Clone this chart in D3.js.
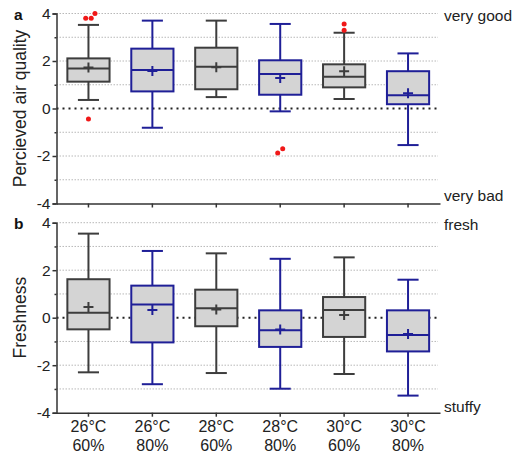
<!DOCTYPE html>
<html>
<head>
<meta charset="utf-8">
<script src="https://cdn.jsdelivr.net/npm/d3@7"></script>
<style>
  body { margin: 0; background: #fff; }
  svg, svg text { font-family: "Liberation Sans", Arial, sans-serif; }
</style>
</head>
<body>
<div id="chart"></div>
<script>
// 1. DATA
const temps = ["26°C", "26°C", "28°C", "28°C", "30°C", "30°C"]
const humidities = ["60%", "80%", "60%", "80%", "60%", "80%"]
const categories = temps.map((t, i) => t + " " + humidities[i])

// panel a: perceived air quality
const airLow    = [0.36, -0.81, 0.48, -0.12, 0.40, -1.54]
const airQ1     = [1.13, 0.72, 0.81, 0.58, 0.89, 0.18]
const airMedian = [1.68, 1.62, 1.76, 1.45, 1.34, 0.56]
const airQ3     = [2.11, 2.52, 2.56, 2.03, 1.86, 1.57]
const airHigh   = [3.52, 3.70, 3.70, 3.56, 3.19, 2.32]
const airMean   = [1.73, 1.58, 1.74, 1.28, 1.57, 0.64]
const airOutliers = [
    [3.80, 3.80, 4.00, -0.44],
    [],
    [],
    [-1.87, -1.69],
    [3.56, 3.29],
    []
]

// panel b: freshness
const freshLow    = [-2.30, -2.80, -2.33, -2.99, -2.37, -3.28]
const freshQ1     = [-0.49, -1.04, -0.36, -1.23, -0.81, -1.42]
const freshMedian = [0.21, 0.56, 0.40, -0.53, 0.32, -0.73]
const freshQ3     = [1.62, 1.35, 1.18, 0.31, 0.87, 0.31]
const freshHigh   = [3.54, 2.81, 2.71, 2.48, 2.54, 1.60]
const freshMean   = [0.45, 0.32, 0.35, -0.50, 0.11, -0.69]

const yTicks = [-4, -2, 0, 2, 4]
const yMinorTicks = [-3, -1, 1, 3]
const yGrid = [-3, -2, -1, 1, 2, 3, 4]

// 2. DIMENSIONS
const dimensions = {
    width: 513,
    height: 455,
    left: 56.5,
    right: 440
}
const panels = [
    {
        letter: "a", title: "Percieved air quality", top: 13.5, bottom: 203.5,
        upper: "very good", lower: "very bad", upperDy: 7.5, lowerDy: -2.5,
        low: airLow, q1: airQ1, median: airMedian, q3: airQ3, high: airHigh,
        mean: airMean, outliers: airOutliers
    },
    {
        letter: "b", title: "Freshness", top: 222.7, bottom: 412.7,
        upper: "fresh", lower: "stuffy", upperDy: 7.5, lowerDy: -1,
        low: freshLow, q1: freshQ1, median: freshMedian, q3: freshQ3, high: freshHigh,
        mean: freshMean, outliers: categories.map(() => [])
    }
]

const colorByHumidity = { "60%": "#3d3d3d", "80%": "#1f1f97" }
const boxFill = "#d4d4d4"
const outlierColor = "#f01818"
const axisColor = "#333"
const fontFamily = "Liberation Sans, Arial, sans-serif"

// 3. CANVAS
const wrapper = d3.select("#chart")
    .append("svg")
    .attr("width", dimensions.width)
    .attr("height", dimensions.height)

// 4. SCALES
const xScale = d3.scaleBand()
    .domain(categories)
    .range([dimensions.left, dimensions.right])
    .padding(0)
const boxWidth = xScale.bandwidth() * 0.66
const capWidth = xScale.bandwidth() * 0.33
const cx = c => xScale(c) + xScale.bandwidth() / 2

panels.forEach(p => {
    const yScale = d3.scaleLinear()
        .domain([-4, 4])
        .range([p.bottom, p.top])

    const g = wrapper.append("g")

    // grid lines
    g.selectAll(".grid")
        .data(yGrid).join("line")
        .attr("x1", dimensions.left)
        .attr("x2", dimensions.right - 2)
        .attr("y1", d => yScale(d))
        .attr("y2", d => yScale(d))
        .attr("stroke", "#b8b8b8")
        .attr("stroke-width", 1)
        .attr("stroke-dasharray", "1.5,1.5")

    // zero line
    g.append("line")
        .attr("x1", dimensions.left)
        .attr("x2", dimensions.right - 2)
        .attr("y1", yScale(0))
        .attr("y2", yScale(0))
        .attr("stroke", "#222")
        .attr("stroke-width", 2)
        .attr("stroke-dasharray", "2,4")

    // 5. DRAW DATA
    const boxes = g.selectAll(".box")
        .data(categories).join("g")
        .attr("class", "box")

    const col = (d, i) => colorByHumidity[humidities[i]]

    // whiskers
    boxes.append("line")
        .attr("x1", d => cx(d)).attr("x2", d => cx(d))
        .attr("y1", (d, i) => yScale(p.low[i]))
        .attr("y2", (d, i) => yScale(p.high[i]))
        .attr("stroke", col).attr("stroke-width", 2)
    boxes.append("line")
        .attr("x1", d => cx(d) - capWidth / 2).attr("x2", d => cx(d) + capWidth / 2)
        .attr("y1", (d, i) => yScale(p.high[i]))
        .attr("y2", (d, i) => yScale(p.high[i]))
        .attr("stroke", col).attr("stroke-width", 2)
    boxes.append("line")
        .attr("x1", d => cx(d) - capWidth / 2).attr("x2", d => cx(d) + capWidth / 2)
        .attr("y1", (d, i) => yScale(p.low[i]))
        .attr("y2", (d, i) => yScale(p.low[i]))
        .attr("stroke", col).attr("stroke-width", 2)

    // box
    boxes.append("rect")
        .attr("x", d => cx(d) - boxWidth / 2)
        .attr("width", boxWidth)
        .attr("y", (d, i) => yScale(p.q3[i]))
        .attr("height", (d, i) => yScale(p.q1[i]) - yScale(p.q3[i]))
        .attr("fill", boxFill)
        .attr("stroke", col).attr("stroke-width", 2)

    // median
    boxes.append("line")
        .attr("x1", d => cx(d) - boxWidth / 2).attr("x2", d => cx(d) + boxWidth / 2)
        .attr("y1", (d, i) => yScale(p.median[i]))
        .attr("y2", (d, i) => yScale(p.median[i]))
        .attr("stroke", col).attr("stroke-width", 2)

    // mean "+"
    boxes.append("path")
        .attr("d", (d, i) => {
            const x = cx(d), y = yScale(p.mean[i])
            return `M${x - 5},${y}H${x + 5}M${x},${y - 5}V${y + 5}`
        })
        .attr("stroke", col).attr("stroke-width", 2)

    // outliers
    boxes.each(function (d, i) {
        const pts = p.outliers[i]
        d3.select(this).selectAll("circle")
            .data(pts).join("circle")
            .attr("cx", (v, j) => {
                // spread duplicated points side by side
                const same = pts.filter(w => w === v)
                const k = pts.slice(0, j).filter(w => w === v).length
                const dupShift = same.length > 1 ? (k - (same.length - 1) / 2) * 5.5 : 0
                const off = (i === 0 && v === 4) ? 6.5 : (i === 3 ? (v < -1.8 ? -2.5 : 2.5) : 0)
                return cx(d) + dupShift + off
            })
            .attr("cy", v => yScale(v))
            .attr("r", 2.5)
            .attr("fill", outlierColor)
    })

    // 6. PERIPHERALS
    const yAxis = g.append("g")
        .attr("transform", `translate(${dimensions.left},0)`)
        .call(d3.axisLeft(yScale).tickValues(yTicks).tickSize(4).tickFormat(d => String(d)))
        .attr("font-family", fontFamily)
    g.append("g")
        .attr("transform", `translate(${dimensions.left},0)`)
        .call(d3.axisLeft(yScale).tickValues(yMinorTicks).tickSize(2).tickFormat(""))
        .call(a => a.select(".domain").remove())

    g.append("g")
        .attr("transform", `translate(0,${p.bottom})`)
        .call(d3.axisBottom(xScale).tickSize(4).tickSizeOuter(0).tickFormat(""))

    g.selectAll(".domain, .tick line")
        .attr("stroke", axisColor)
        .attr("stroke-width", 1.5)
    yAxis.selectAll("text")
        .attr("font-size", 15.5)
        .attr("fill", "#222")
        .attr("x", -6)

    // panel letter
    g.append("text")
        .attr("x", 14)
        .attr("y", p.top + 6)
        .attr("font-size", 15.5)
        .attr("font-weight", "bold")
        .attr("fill", "#111")
        .text(p.letter)

    // axis title
    g.append("text")
        .attr("transform", `translate(26,${(p.top + p.bottom) / 2}) rotate(-90)`)
        .attr("text-anchor", "middle")
        .attr("font-size", 17.5)
        .attr("fill", "#222")
        .text(p.title)

    // right-side labels
    g.append("text")
        .attr("x", 444)
        .attr("y", p.top + p.upperDy)
        .attr("font-size", 15.5)
        .attr("fill", "#222")
        .text(p.upper)
    g.append("text")
        .attr("x", 444)
        .attr("y", p.bottom + p.lowerDy)
        .attr("font-size", 15.5)
        .attr("fill", "#222")
        .text(p.lower)
})

// x category labels, bottom panel only
const xLabels = wrapper.append("g")
    .selectAll("text")
    .data(categories).join("text")
    .attr("text-anchor", "middle")
    .attr("font-size", 16)
    .attr("fill", "#222")
xLabels.append("tspan")
    .attr("x", d => cx(d))
    .attr("y", 432)
    .text((d, i) => temps[i])
xLabels.append("tspan")
    .attr("x", d => cx(d))
    .attr("y", 451)
    .text((d, i) => humidities[i])
</script>
</body>
</html>
